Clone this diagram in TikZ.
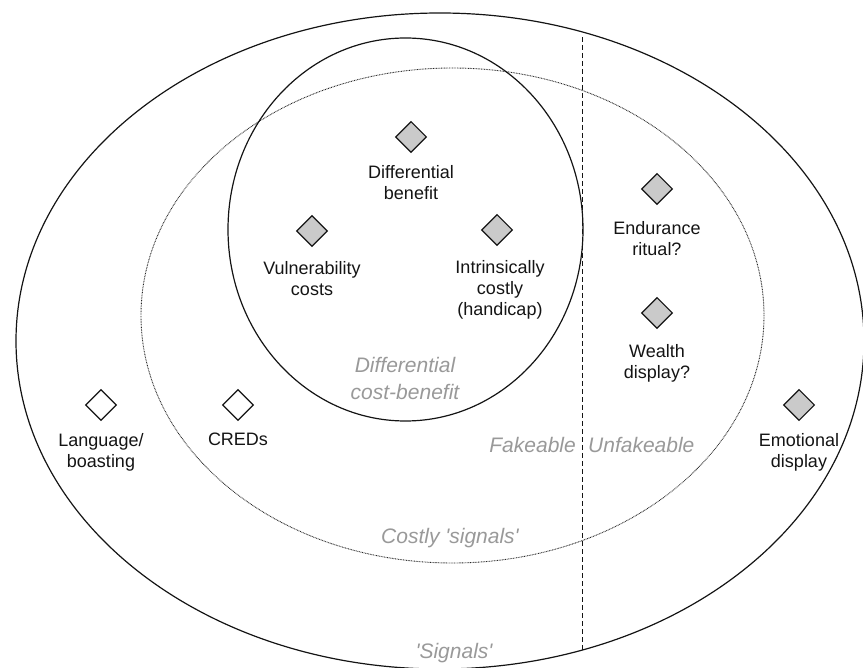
\documentclass[tikz,border=0pt]{standalone}
\usepackage{fontspec}
\setmainfont{Liberation Sans}
\usetikzlibrary{shapes.geometric}

\definecolor{inkblack}{HTML}{141414}
\definecolor{softgray}{HTML}{999999}
\definecolor{diamondfill}{HTML}{CACACA}

\tikzset{
  signal/.style={diamond, draw=inkblack, line width=1.1pt, fill=diamondfill,
    minimum width=31pt, minimum height=31pt, inner sep=0pt},
  cheap/.style={signal, fill=white},
  tag/.style={anchor=north, align=center, inner sep=0pt, text=inkblack,
    font=\fontsize{18}{21}\selectfont},
  zone/.style={align=center, inner sep=0pt, text=softgray,
    font=\fontsize{21}{26.5}\selectfont\itshape},
  boundary/.style={draw=inkblack, line width=1.2pt},
  costly/.style={draw=black!85, line width=0.9pt, dash pattern=on 0.8pt off 0.8pt},
  divide/.style={draw=inkblack, line width=1pt, dash pattern=on 5pt off 3pt}
}

\begin{document}
\begin{tikzpicture}[x=1pt,y=-1pt]
  \useasboundingbox (0,0) rectangle (863,668);

  % nested sets of signals
  \draw[boundary] (440,341) ellipse [x radius=424pt, y radius=328pt];
  \draw[costly] (452.5,315.5) ellipse [x radius=311.5pt, y radius=247.5pt];
  \draw[boundary] (405.5,229.5) ellipse [x radius=177.5pt, y radius=191.5pt];

  % fakeable / unfakeable divide
  \coordinate (divtop) at (582,37);
  \coordinate (divbot) at (582,652);
  \draw[divide] (divtop) -- (divbot);

  % signal types
  \node[signal] (db)   at (411,137) {};
  \node[signal] (vc)   at (312,231) {};
  \node[signal] (ic)   at (497,230) {};
  \node[signal] (end)  at (657,189) {};
  \node[signal] (wd)   at (657,313) {};
  \node[signal] (emo)  at (799,405) {};
  \node[cheap]  (lang) at (101,405) {};
  \node[cheap]  (cred) at (238,405) {};

  \node[tag] (dbtext)   at (411,165.5) {Differential\\benefit};
  \node[tag] (vctext)   at (312,261.5) {Vulnerability\\costs};
  \node[tag] (ictext)   at (500,260.5) {Intrinsically\\costly\\(handicap)};
  \node[tag] (endtext)  at (657,221.5) {Endurance\\ritual?};
  \node[tag] (wdtext)   at (657,344.5) {Wealth\\display?};
  \node[tag] (emotext)  at (799,433.5) {Emotional\\display};
  \node[tag] (langtext) at (101,433.5) {Language/\\boasting};
  \node[tag] (credtext) at (238,432.5) {CREDs};

  % set names
  \node[zone] (dcb)    at (405,378.5) {Differential\\cost-benefit};
  \node[zone, anchor=east] (fake)   at (576,445) {Fakeable};
  \node[zone, anchor=west] (unfake) at (588,445) {Unfakeable};
  \node[zone, anchor=base] (costlyname) at (450,543.5)
    {Costly \textquotesingle signals\textquotesingle};
  \node[zone, anchor=base] (signalsname) at (454,658)
    {\textquotesingle Signals\textquotesingle};
\end{tikzpicture}
\end{document}
